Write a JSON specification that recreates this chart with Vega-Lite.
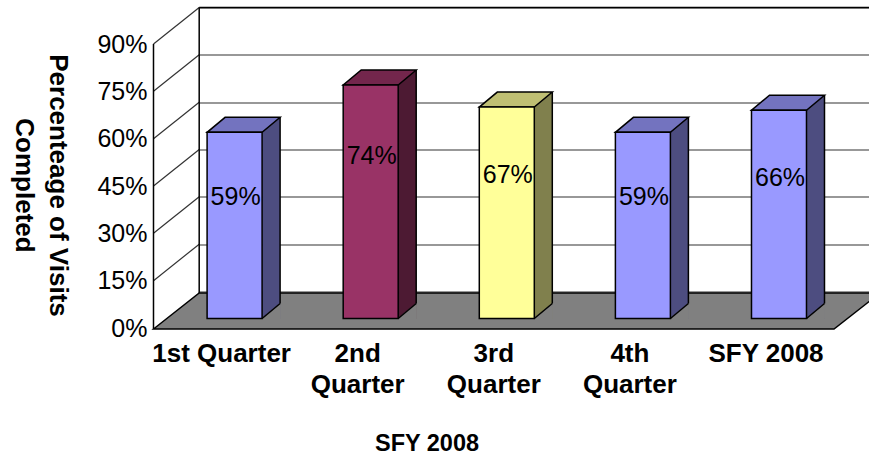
{
  "$schema": "https://vega.github.io/schema/vega-lite/v6.json",
  "width": 670,
  "height": 284,
  "autosize": {"type": "none"},
  "padding": {"left": 199, "top": 34.5, "right": 0, "bottom": 137.5},
  "background": "#ffffff",
  "config": {
    "view": {"stroke": null},
    "axis": {"labelFont": "Liberation Sans", "titleFont": "Liberation Sans", "labelColor": "#000000", "titleColor": "#000000"}
  },
  "datasets": {
    "bars": [
      {"cat": "1st Quarter", "value": 0.59},
      {"cat": "2nd Quarter", "value": 0.74},
      {"cat": "3rd Quarter", "value": 0.67},
      {"cat": "4th Quarter", "value": 0.59},
      {"cat": "SFY 2008", "value": 0.66}
    ],
    "ticks": [{"t": 0.15}, {"t": 0.3}, {"t": 0.45}, {"t": 0.6}, {"t": 0.75}, {"t": 0.9}]
  },
  "data": {"name": "bars"},
  "encoding": {
    "x": {
      "field": "cat", "type": "nominal", "sort": null,
      "scale": {"type": "band", "domain": ["1st Quarter", "2nd Quarter", "3rd Quarter", "4th Quarter", "SFY 2008"], "paddingInner": 0.4769, "paddingOuter": 0.1999, "align": 0, "round": false},
      "axis": {
        "domain": false, "ticks": false, "tickSize": 0, "grid": false,
        "labelAngle": 0, "labelOffset": -13, "labelPadding": 42.5, "labelBaseline": "alphabetic",
        "labelFontSize": 26, "labelFontWeight": "bold", "labelLineHeight": 31.7, "labelOverlap": false,
        "labelExpr": "datum.label == '1st Quarter' || datum.label == 'SFY 2008' ? datum.label : split(datum.label, ' ')",
        "title": "SFY 2008", "titleFontSize": 23.5, "titleFontWeight": "bold",
        "titleX": 227.5, "titleY": 131.5, "titleAlign": "center", "titleBaseline": "alphabetic", "titleAnchor": null
      }
    }
  },
  "layer": [
    {
      "layer": [
        {
          "data": {"name": "ticks"},
          "mark": {"type": "rule", "color": "#333333", "strokeWidth": 1.2, "xOffset": -81.1, "x2Offset": -35.4, "yOffset": 9.5, "y2Offset": -27},
          "encoding": {
            "x": {"datum": "1st Quarter"},
            "x2": {"datum": "1st Quarter"},
            "y": {
              "field": "t", "type": "quantitative",
              "scale": {"domain": [0, 0.9], "nice": false, "zero": true},
              "axis": {
                "values": [0, 0.15, 0.3, 0.45, 0.6, 0.75, 0.9], "format": ".0%",
                "domain": false, "ticks": false, "tickSize": 0,
                "grid": true, "gridColor": "#333333", "gridWidth": 1.2,
                "tickOffset": -27, "labelOffset": 36.5, "labelPadding": 52,
                "labelFontSize": 25, "labelAlign": "right", "labelBaseline": "middle",
                "title": ["Percenteage of Visits", "Completed"], "titleAngle": 90,
                "titleFontSize": 26, "titleFontWeight": "bold", "titleLineHeight": 34,
                "titleX": -142, "titleY": 150.5, "titleAlign": "center", "titleBaseline": "middle", "titleAnchor": null
              }
            },
            "y2": {"field": "t"}
          }
        },
        {
          "data": {"values": [{}]},
          "mark": {"type": "rule", "color": "#000000", "strokeWidth": 1.5, "xOffset": -81.1, "yOffset": 10.5, "y2Offset": 9.5},
          "encoding": {"x": {"datum": "1st Quarter"}, "y": {"datum": 0}, "y2": {"datum": 0.9}}
        },
        {
          "data": {"values": [{}]},
          "mark": {"type": "rule", "color": "#000000", "strokeWidth": 1.5, "xOffset": -35.4, "yOffset": -25.5, "y2Offset": -27},
          "encoding": {"x": {"datum": "1st Quarter"}, "y": {"datum": 0}, "y2": {"datum": 0.9}}
        },
        {
          "data": {"values": [{}]},
          "mark": {"type": "rule", "color": "#000000", "strokeWidth": 1.5, "xOffset": -35.4, "x2Offset": 101, "yOffset": -27, "y2Offset": -27},
          "encoding": {"x": {"datum": "1st Quarter"}, "x2": {"datum": "SFY 2008"}, "y": {"datum": 0.9}, "y2": {"datum": 0.9}}
        },
        {
          "data": {"values": [{}]},
          "mark": {"type": "point", "shape": "M-81.1,10.5L-35.4,-25.5L645.4,-25.5L599.4,10.5Z", "size": 4, "filled": true, "fill": "#808080", "stroke": "#000000", "strokeWidth": 1.5, "opacity": 1},
          "encoding": {"x": {"datum": "1st Quarter"}, "y": {"datum": 0}}
        },
        {
          "mark": {"type": "bar", "size": 18, "xOffset": 36.5, "yOffset": -15, "strokeWidth": 0},
          "encoding": {
            "y": {"field": "value", "type": "quantitative"},
            "y2": {"datum": 0},
            "fill": {"field": "cat", "type": "nominal", "legend": null,
              "scale": {"domain": ["1st Quarter", "2nd Quarter", "3rd Quarter", "4th Quarter", "SFY 2008"], "range": ["#4D4D80", "#4D1A33", "#80804D", "#4D4D80", "#4D4D80"]}}
          }
        },
        {
          "mark": {"type": "point", "shape": "M27.5,0L45.5,0L45.5,-15Z", "size": 4, "filled": true, "fill": "#808080", "stroke": "#808080", "strokeWidth": 1, "opacity": 1},
          "encoding": {"y": {"datum": 0}}
        },
        {
          "mark": {"type": "point", "shape": "M-27.5,0L27.5,0L45.5,-15L-9.5,-15Z", "size": 4, "filled": true, "stroke": "#000000", "strokeWidth": 1.5, "opacity": 1},
          "encoding": {
            "y": {"field": "value", "type": "quantitative"},
            "fill": {"field": "cat", "type": "nominal", "legend": null,
              "scale": {"domain": ["1st Quarter", "2nd Quarter", "3rd Quarter", "4th Quarter", "SFY 2008"], "range": ["#7373BF", "#73264C", "#BFBF73", "#7373BF", "#7373BF"]}}
          }
        },
        {
          "mark": {"type": "rule", "color": "#000000", "strokeWidth": 1.5, "xOffset": 45.5, "yOffset": -15, "y2Offset": -15},
          "encoding": {"y": {"field": "value", "type": "quantitative"}, "y2": {"datum": 0}}
        },
        {
          "mark": {"type": "point", "shape": "M27.5,0L45.5,-15", "size": 4, "filled": false, "fill": "transparent", "stroke": "#000000", "strokeWidth": 1.5, "opacity": 1},
          "encoding": {"y": {"datum": 0}}
        },
        {
          "mark": {"type": "bar", "size": 55, "stroke": "#000000", "strokeWidth": 1.5},
          "encoding": {
            "y": {"field": "value", "type": "quantitative"},
            "y2": {"datum": 0},
            "fill": {"field": "cat", "type": "nominal", "legend": null,
              "scale": {"domain": ["1st Quarter", "2nd Quarter", "3rd Quarter", "4th Quarter", "SFY 2008"], "range": ["#9999FF", "#993366", "#FFFF99", "#9999FF", "#9999FF"]}}
          }
        }
      ],
      "resolve": {"scale": {"fill": "independent"}}
    },
    {
      "mark": {"type": "text", "font": "Liberation Sans", "fontSize": 25, "color": "#000000", "baseline": "middle", "align": "center", "dx": 1},
      "encoding": {
        "y": {"field": "value", "type": "quantitative", "scale": {"domain": [0.133, 1.197], "nice": false, "zero": false}, "axis": null},
        "text": {"field": "value", "type": "quantitative", "format": ".0%"}
      }
    }
  ],
  "resolve": {"scale": {"y": "independent"}}
}
